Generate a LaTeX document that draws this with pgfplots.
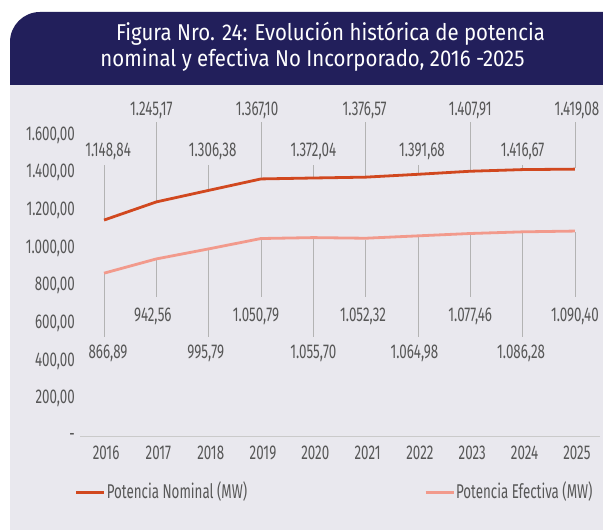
\documentclass[border=0pt]{standalone}
\usepackage{fontspec}
\setmainfont{Fira Sans}[FakeStretch=0.67]
\newfontfamily\ttlfont{Fira Sans}[FakeStretch=0.89]
\usepackage{pgfplots}
\pgfplotsset{compat=1.18}
\usepackage{pgfplotstable}
\definecolor{navy}{HTML}{221F5B}
\definecolor{bg}{HTML}{E9E8EE}
\definecolor{nom}{HTML}{D1481F}
\definecolor{efe}{HTML}{F29A8C}
\definecolor{lead}{HTML}{B3B3B3}
\definecolor{txt}{HTML}{575757}
\newcommand\lbl{\fontsize{20}{23}\selectfont}
\newcommand\ttl{\ttlfont\fontsize{23}{26}\selectfont}

\pgfplotstableread{
x y top ly dx lab
2016 1148.84 1441 1512 4 1.148,84
2017 1245.17 1669 1733 -5 1.245,17
2018 1306.38 1441 1512 4 1.306,38
2019 1367.10 1669 1733 -4 1.367,10
2020 1372.04 1441 1512 0 1.372,04
2021 1376.57 1669 1733 -1 1.376,57
2022 1391.68 1441 1512 4 1.391,68
2023 1407.91 1669 1733 0 1.407,91
2024 1416.67 1441 1512 0 1.416,67
2025 1419.08 1669 1733 2 1.419,08
}\nominal

\pgfplotstableread{
x y bot ly dx lab
2016 866.89 530 442 4 866,89
2017 942.56 742 635 -3.5 942,56
2018 995.79 530 442 -3 995,79
2019 1050.79 742 635 -5 1.050,79
2020 1055.70 530 442 0 1.055,70
2021 1052.32 742 635 -2.5 1.052,32
2022 1064.98 530 442 -3.5 1.064,98
2023 1077.46 742 635 0 1.077,46
2024 1086.28 530 442 -1.5 1.086,28
2025 1090.40 742 635 0 1.090,40
}\efectiva

\begin{document}
\begin{tikzpicture}[x=1bp,y=1bp]
\path[use as bounding box] (0,0) rectangle (603,530);
\fill[bg] (10,0) rectangle (603,445);
\fill[navy] (10,445) -- (10,488) arc[start angle=180, end angle=90, radius=30] -- (603,518) -- (603,445) -- cycle;
\node[white, font=\ttl, anchor=base, inner sep=0] at (330.5,489.3) {Figura Nro. 24: Evolución histórica de potencia};
\node[white, font=\ttl, anchor=base, inner sep=0] at (312.5,463.3) {nominal y efectiva No Incorporado, 2016 -2025};

\begin{axis}[
  at={(80bp,93.5bp)}, anchor=south west,
  scale only axis, width=520bp, height=341bp,
  xmin=2015.54, xmax=2025.48, ymin=0, ymax=1810,
  clip=false,
  axis x line*=bottom, axis y line*=left,
  x axis line style={draw=lead!70, line width=0.6bp, -},
  y axis line style={draw=none},
  major tick length=0pt,
  xtick={2016,...,2025},
  xticklabels={2016,2017,2018,2019,2020,2021,2022,2023,2024,2025},
  ytick={0,200,...,1600},
  yticklabels={-\hspace{13bp},{200,00},{400,00},{600,00},{800,00},{1.000,00},{1.200,00},{1.400,00},{1.600,00}},
  xticklabel style={font=\lbl, text=txt, anchor=north, inner sep=0, yshift=-9.5bp, xshift=2bp},
  yticklabel style={font=\lbl, text=txt, anchor=east, inner sep=0, xshift=-5bp},
  legend style={at={(rel axis cs:-0.01,-0.160)}, anchor=west, draw=none, fill=none,
    font=\lbl, text=txt, legend columns=2,
    /tikz/every even column/.append style={column sep=176bp},
    inner sep=0, nodes={inner sep=1bp}},
  legend image code/.code={\draw[#1, line width=2.8bp] (0bp,-1.5bp) -- (28bp,-1.5bp);},
]
% leader lines
\addplot[draw=none, mark=none, forget plot,
  error bars/.cd, y dir=plus, y explicit, error mark=none,
  error bar style={draw=lead, line width=0.8bp}]
  table[x=x, y expr=\thisrow{y}+7, y error plus expr=\thisrow{top}-\thisrow{y}-7] \nominal;
\addplot[draw=none, mark=none, forget plot,
  error bars/.cd, y dir=minus, y explicit, error mark=none,
  error bar style={draw=lead, line width=0.8bp}]
  table[x=x, y expr=\thisrow{y}-7, y error minus expr=\thisrow{y}-7-\thisrow{bot}] \efectiva;
% lines
\addplot[nom, line width=2.8bp, mark=none] table[x=x, y=y] \nominal;
\addlegendentry{Potencia Nominal (MW)}
\addplot[efe, line width=2.8bp, mark=none] table[x=x, y=y] \efectiva;
\addlegendentry{Potencia Efectiva (MW)}
% data labels
\addplot[draw=none, mark=none, forget plot, nodes near coords, point meta=explicit symbolic,
  every node near coord/.style={anchor=center, text=txt, font=\lbl, inner sep=0}]
  table[x expr=\thisrow{x}+\thisrow{dx}/52.33, y=ly, meta=lab] \nominal;
\addplot[draw=none, mark=none, forget plot, nodes near coords, point meta=explicit symbolic,
  every node near coord/.style={anchor=center, text=txt, font=\lbl, inner sep=0}]
  table[x expr=\thisrow{x}+\thisrow{dx}/52.33, y=ly, meta=lab] \efectiva;
\end{axis}
\end{tikzpicture}
\end{document}
